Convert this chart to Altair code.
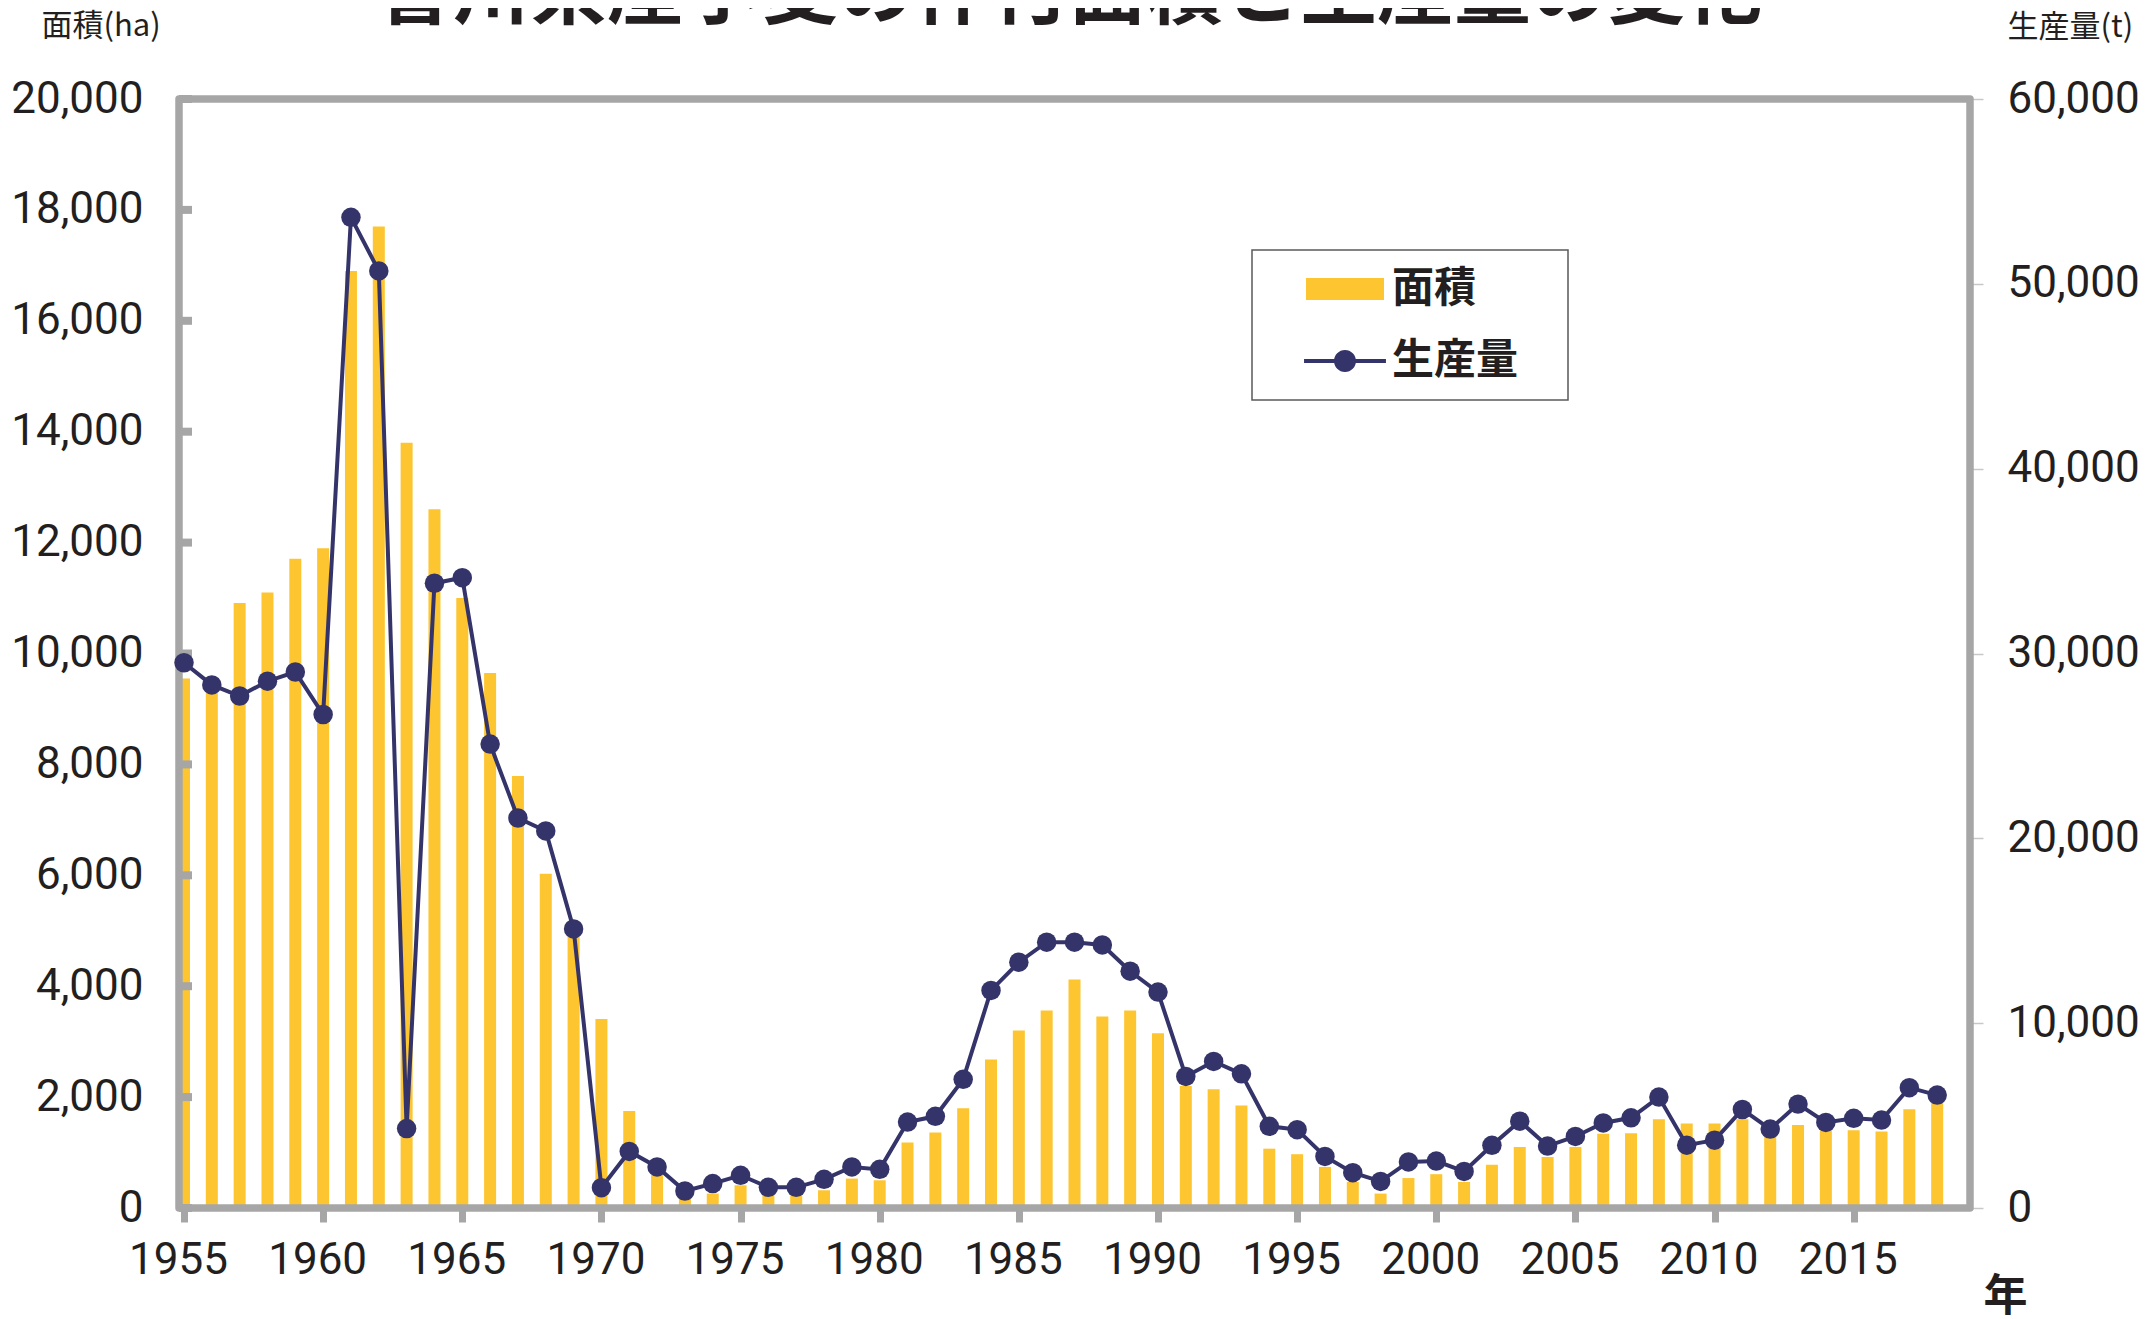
import altair as alt
import pandas as pd

# ---------------- data ----------------
years = list(range(1955, 2019))

area_ha = [
    9550, 9300, 10910, 11100, 11710, 11900, 16900, 17700, 13800, 12600,   # 1955-1964
    11000, 9650, 7790, 6030, 4950, 3410, 1750, 600, 200, 260,             # 1965-1974
    410, 230, 230, 320, 530, 500, 1180, 1360, 1800, 2680,                 # 1975-1984
    3200, 3560, 4120, 3455, 3560, 3150, 2200, 2140, 1850, 1070,           # 1985-1994
    970, 740, 470, 260, 540, 610, 470, 780, 1100, 920,                    # 1995-2004
    1100, 1340, 1350, 1600, 1525, 1525, 1600, 1290, 1495, 1400,           # 2005-2014
    1400, 1380, 1780, 1900,                                               # 2015-2018
]

production_t = [
    29500, 28300, 27700, 28500, 29000, 26700, 53600, 50700, 4300, 33800,  # 1955-1964
    34100, 25100, 21100, 20400, 15100, 1100, 3060, 2220, 920, 1320,       # 1965-1974
    1770, 1120, 1120, 1550, 2220, 2090, 4650, 4960, 6960, 11770,          # 1975-1984
    13300, 14380, 14380, 14230, 12810, 11680, 7120, 7930, 7260, 4420,     # 1985-1994
    4240, 2790, 1910, 1440, 2490, 2540, 1980, 3390, 4700, 3350,           # 1995-2004
    3870, 4600, 4880, 6000, 3400, 3670, 5330, 4270, 5620, 4630,           # 2005-2014
    4850, 4760, 6510, 6110,                                               # 2015-2018
]

left_ticks = list(range(0, 20001, 2000))
right_ticks = list(range(0, 60001, 10000))
year_ticks = list(range(1955, 2016, 5))
series_names = ["面積", "生産量"]

title_text = ["香川県産小麦の作付面積と生産量の変化"]
left_title = "面積(ha)"
right_title = "生産量(t)"
x_title = "年"

# ---------------- style ----------------
YELLOW = "#FDC530"
NAVY = "#34346A"
GRAY = "#A6A6A6"
TEXT = "#231F20"
NUM_FONT = "Roboto, Liberation Sans, sans-serif"
JP_FONT = "Noto Sans CJK JP"
NUM_SIZE = 44

W, H = 1791, 1109

# legend symbol paths (unit = sqrt(symbolSize)/2 px)
RECT_PATH = "M-2.6,-0.73H2.6V0.73H-2.6Z"
LINE_PATH = ("M-2.73,-0.133H2.73V0.133H-2.73Z "
             "M-0.733,0A0.733,0.733,0,1,1,0.733,0A0.733,0.733,0,1,1,-0.733,0Z")

df = pd.DataFrame({"year": years, "area": area_ha, "production": production_t})
tick_df = pd.DataFrame({"tick": left_ticks})
legend_df = pd.DataFrame({"series": series_names})
frame_df = pd.DataFrame({"box": [1]})
title_df = pd.DataFrame({"label": title_text})

x_enc = alt.X(
    "year:Q",
    scale=alt.Scale(domain=[1955, 2019], nice=False, zero=False),
    axis=alt.Axis(
        orient="bottom", values=year_ticks, format="d",
        tickSize=14, tickWidth=7, tickColor=GRAY, domain=False, grid=False,
        labelPadding=16, labelOffset=-6, labelFlush=False, labelOverlap=False,
        title=x_title, titleFont=JP_FONT, titleFontSize=44, titleFontWeight="bold",
        titleX=1826, titleY=89, titleAlign="center", titleBaseline="middle",
        titleAngle=0, titleColor=TEXT,
    ),
)

bars = alt.Chart(df).mark_bar(size=12, color=YELLOW, clip=True).encode(
    x=x_enc,
    y=alt.Y(
        "area:Q",
        scale=alt.Scale(domain=[0, 20000], nice=False),
        axis=alt.Axis(
            orient="left", values=left_ticks, format=",.0f", ticks=False,
            domain=False, grid=False, labelPadding=36,
            title=left_title, titleX=-138, titleY=-73, titleAngle=0,
            titleAlign="left", titleBaseline="middle", titleFont=JP_FONT,
            titleFontSize=31, titleFontWeight="normal", titleColor=TEXT,
        ),
    ),
)

frame = alt.Chart(frame_df).mark_rect(
    filled=False, color=GRAY, strokeWidth=7.5, strokeJoin="round"
).encode(
    x=alt.value(0), x2=alt.value("width"), y=alt.value(0), y2=alt.value("height")
)

inner_ticks = alt.Chart(tick_df).mark_rule(color=GRAY, strokeWidth=8).encode(
    y=alt.Y("tick:Q", scale=alt.Scale(domain=[0, 20000], nice=False), axis=None),
    x=alt.value(0),
    x2=alt.value(13),
)

line = alt.Chart(df).mark_line(
    color=NAVY, strokeWidth=4,
    point=alt.OverlayMarkDef(filled=True, size=380, color=NAVY, opacity=1),
).encode(
    x=x_enc,
    y=alt.Y(
        "production:Q",
        scale=alt.Scale(domain=[0, 60000], nice=False),
        axis=alt.Axis(
            orient="right", values=right_ticks, format=",.0f",
            tickSize=13, tickWidth=1.5, tickColor="#C8C8C8",
            domain=False, grid=False, labelPadding=24,
            title=right_title, titleX=37, titleY=-72, titleAngle=0,
            titleAlign="left", titleBaseline="middle", titleFont=JP_FONT,
            titleFontSize=31, titleFontWeight="normal", titleColor=TEXT,
        ),
    ),
)

legend_spec = alt.Legend(
    orient="none", legendX=1073, legendY=151, title=None, direction="vertical",
    symbolSize=900, symbolOffset=54, labelOffset=26, rowPadding=30,
    symbolStrokeWidth=0, symbolOpacity=1,
    labelFont=JP_FONT, labelFontSize=42, labelFontWeight="bold",
    labelColor=TEXT, labelLimit=600,
    labelExpr="datum.label + '\u2800'",
)

legend_layer = alt.Chart(legend_df).mark_point(filled=True, opacity=0).encode(
    color=alt.Color("series:N", scale=alt.Scale(domain=series_names, range=[YELLOW, NAVY]),
                    legend=legend_spec),
    shape=alt.Shape("series:N", scale=alt.Scale(domain=series_names, range=[RECT_PATH, LINE_PATH]),
                    legend=legend_spec),
)

title_layer = alt.Chart(title_df).mark_text(
    font=JP_FONT, fontSize=77, fontWeight="bold", color=TEXT,
    align="center", baseline="alphabetic",
).encode(
    text="label:N", x=alt.value(890), y=alt.value(-81)
)

chart = (
    alt.layer(bars, frame, inner_ticks, line, legend_layer, title_layer)
    .resolve_scale(y="independent")
    .properties(
        width=W, height=H,
        autosize=alt.AutoSizeParams(type="none"),
        padding={"left": 171, "top": 91, "right": 178, "bottom": 111},
    )
    .configure_view(stroke=None)
    .configure_axis(labelFont=NUM_FONT, labelFontSize=NUM_SIZE, labelColor=TEXT)
    .configure_legend(strokeColor="#595959", strokeWidth=1.5, fillColor="white",
                      padding=18, cornerRadius=0)
)

chart.save("out.html", embed_options={"renderer": "svg", "actions": False})
